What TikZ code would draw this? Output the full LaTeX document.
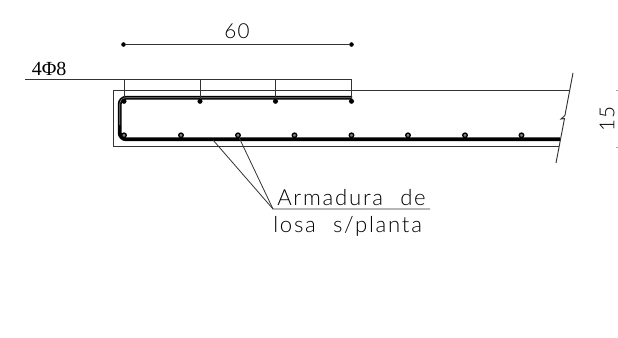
\documentclass[tikz,border=0pt]{standalone}
\usepackage{fontspec}
\setmainfont{Liberation Serif}
\newfontfamily\cadfont[LetterSpace=7,WordSpace=2.2]{Lato Light}
\newfontfamily\cadwide[LetterSpace=8,WordSpace=2.2]{Lato Light}
\tikzset{
  thinline/.style={draw=black!80,line width=0.6pt},
  barline/.style={draw=black,line width=2.9pt,line join=round},
  barcore/.style={draw=black!45,line width=0.5pt},
  dimdot/.style={circle,fill=black,inner sep=0pt,minimum size=3.4pt},
  bardot/.style={circle,fill=black,inner sep=0pt,minimum size=3.8pt},
  ringdot/.style={circle,draw=black,fill=black!50,line width=1pt,inner sep=0pt,minimum size=3.4pt},
  cadlarge/.style={inner sep=0pt,font=\cadfont\fontsize{15.5}{15.5}\selectfont},
  cadnote/.style={inner sep=0pt,font=\cadwide\fontsize{16.6}{16.6}\selectfont}
}
\begin{document}
\begin{tikzpicture}[x=0.75pt,y=-0.75pt]
\useasboundingbox (0,0) rectangle (618,337);
\coordinate (dimL) at (123.5,44.5);
\coordinate (dimR) at (351.5,44.5);
\node[dimdot] (dA) at (dimL) {};
\node[dimdot] (dB) at (dimR) {};
\draw[thinline] (dA) -- (dB);
\node[cadlarge] (t60) at (237,31) {60};
\node[inner sep=0pt,anchor=base west,font=\fontsize{15}{15}\selectfont] (t48) at (31.5,75.5) {4Φ8};
\coordinate (ldL) at (25,79);
\coordinate (ldR) at (351.5,79);
\draw[thinline] (ldL) -- (ldR);
\draw[thinline] (570,90.5) -- (113,90.5) -- (113,146.7) -- (559,146.7);
\draw[thinline,line width=0.7pt] (573,73) -- (564.9,115.5) -- (561,119) -- (564.5,118.5) -- (556,163);
\draw[barline,rounded corners=6.5*0.75pt] (352,97.7) -- (119.7,97.7) -- (119.7,139.3) -- (560,139.3);
\draw[barcore,rounded corners=6.5*0.75pt] (352,97.7) -- (119.7,97.7) -- (119.7,125);
\foreach \x/\n in {124/a,200/b,275.5/c,351.5/d}{
  \node[bardot] (top\n) at (\x,101.3) {};
  \draw[thinline] (\x,79) -- (top\n);
}
\foreach \x/\n in {124/a,181/b,238/c,294.5/d,351.5/e,408/f,465/g,521.5/h}{
  \node[ringdot] (bot\n) at (\x,135.3) {};
}
\coordinate (lead) at (273,209);
\coordinate (leadE) at (430,209);
\coordinate (s1) at (213,140);
\draw[thinline] (s1) -- (lead) -- (leadE);
\draw[thinline] (botc) -- (lead);
\node[cadnote,anchor=base west] (t1) at (277,205) {Armadura de};
\node[cadnote,anchor=base west] (t2) at (273,232.7) {losa s/planta};
\node[cadlarge,rotate=90] (t15) at (607,119) {15};
\draw[draw=black!35,line width=0.6pt] (616,90.5) -- (618,90.5);
\draw[draw=black!35,line width=0.6pt] (616,147) -- (618,147);
\end{tikzpicture}
\end{document}
